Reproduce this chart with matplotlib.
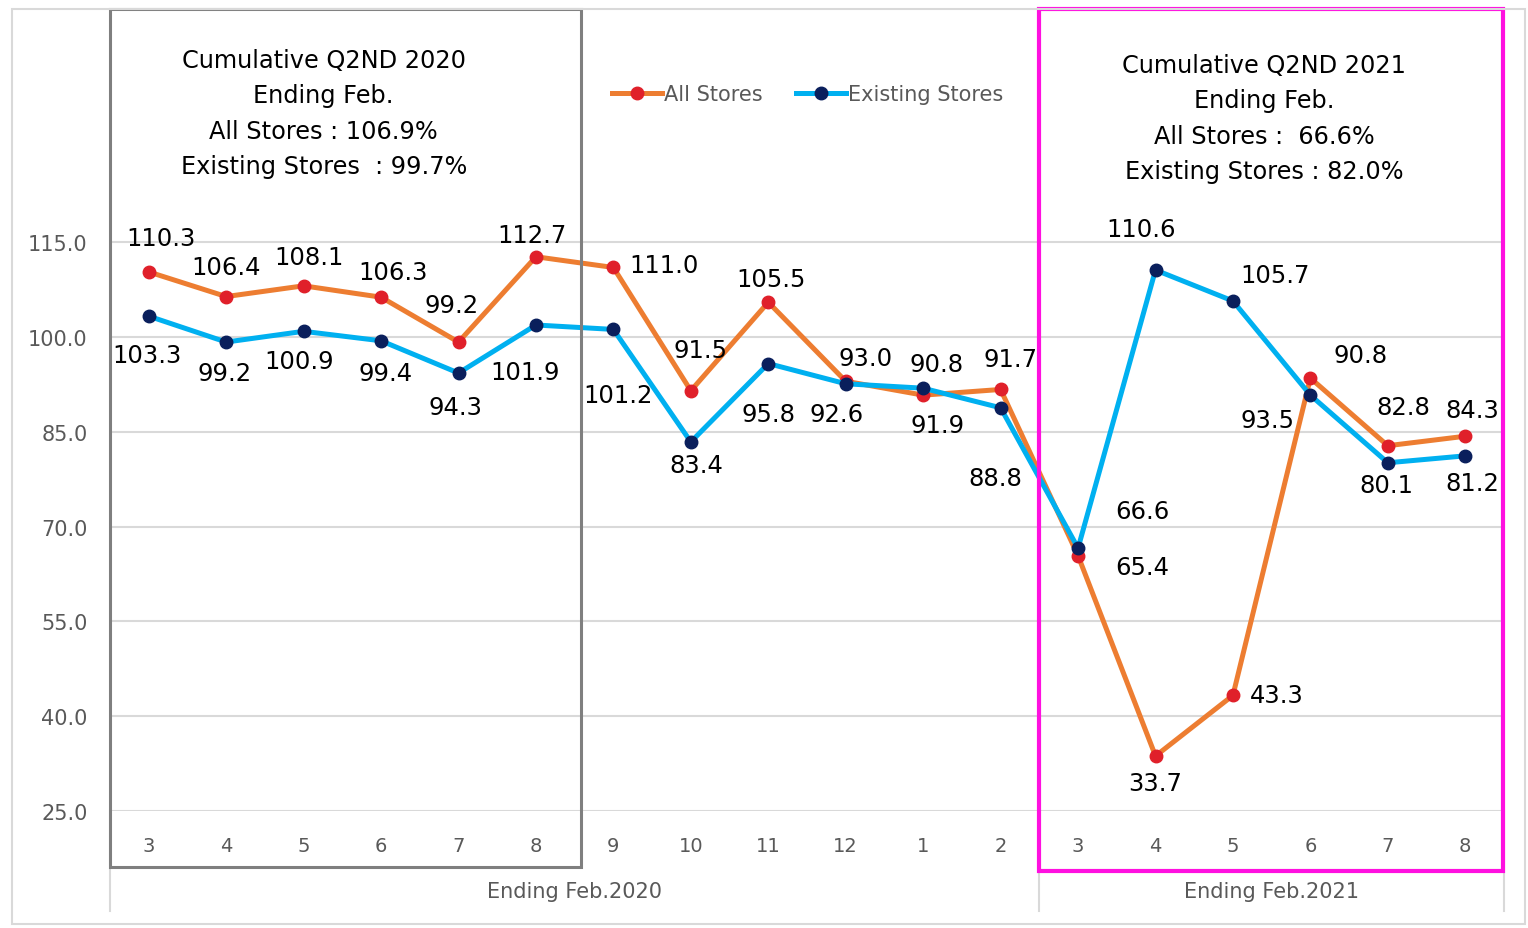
import numpy as np
import matplotlib.pyplot as plt
from matplotlib.patches import Rectangle
from matplotlib.lines import Line2D

# month labels along the category axis
months = ['3', '4', '5', '6', '7', '8', '9', '10', '11', '12', '1', '2',
          '3', '4', '5', '6', '7', '8']
groups = ['Ending Feb.2020', 'Ending Feb.2021']
group_sizes = [12, 6]

all_stores = [110.3, 106.4, 108.1, 106.3, 99.2, 112.7, 111.0, 91.5, 105.5,
              93.0, 90.8, 91.7, 65.4, 33.7, 43.3, 93.5, 82.8, 84.3]
existing_stores = [103.3, 99.2, 100.9, 99.4, 94.3, 101.9, 101.2, 83.4, 95.8,
                   92.6, 91.9, 88.8, 66.6, 110.6, 105.7, 90.8, 80.1, 81.2]

# printed labels (as in the source chart, a couple of labels are swapped)
all_labels = [110.3, 106.4, 108.1, 106.3, 99.2, 112.7, 111.0, 91.5, 105.5,
              93.0, 90.8, 91.7, 66.6, 33.7, 43.3, 93.5, 82.8, 84.3]
existing_labels = [103.3, 99.2, 100.9, 99.4, 94.3, 101.9, 101.2, 83.4, 95.8,
                   92.6, 91.9, 88.8, 65.4, 110.6, 105.7, 90.8, 80.1, 81.2]

yticks = [25, 40, 55, 70, 85, 100, 115]

box_2020 = ['Cumulative Q2ND 2020', 'Ending Feb.', 'All Stores : 106.9%',
            'Existing Stores  : 99.7%']
box_2021 = ['Cumulative Q2ND 2021', 'Ending Feb.', 'All Stores :  66.6%',
            'Existing Stores : 82.0%']

# label offsets in pixels (dx, dy up)
all_off = [(12, 34), (0, 30), (5, 29), (12, 25), (-7, 37), (-4, 22),
           (51, 2), (10, 41), (3, 23), (20, 23), (13, 31), (10, 30),
           (64, 45), (0, -27), (44, 0), (-43, -42), (15, 39), (7, 26)]
ex_off = [(-2, -39), (-2, -31), (-4, -30), (5, -32), (-3, -34), (-11, -47),
          (5, -66), (5, -23), (0, -50), (-9, -30), (14, -37), (-5, -70),
          (64, -19), (-14, 41), (42, 26), (50, 40), (-1, -22), (7, -27)]

ORANGE = '#ED7D31'
RED = '#E0202A'
BLUE = '#00B0F0'
NAVY = '#0A1F5C'
GRID = '#D9D9D9'
TXT = '#595959'

plt.rcParams['font.family'] = ['DejaVu Sans']

fig = plt.figure(figsize=(15.28, 9.29), dpi=100)
ax = fig.add_axes([110 / 1528, 1 - 812 / 929, 1394 / 1528, 802 / 929])

x = np.arange(len(months))
ax.plot(x, all_stores, color=ORANGE, lw=3.6, marker='o', ms=9,
        mfc=RED, mec=RED, zorder=3)
ax.plot(x, existing_stores, color=BLUE, lw=3.6, marker='o', ms=9,
        mfc=NAVY, mec=NAVY, zorder=4)

for i in range(len(x)):
    ax.annotate(f'{all_labels[i]:.1f}', (x[i], all_stores[i]),
                xytext=all_off[i], textcoords='offset pixels',
                ha='center', va='center', fontsize=17.5, color='black',
                zorder=6)
    ax.annotate(f'{existing_labels[i]:.1f}', (x[i], existing_stores[i]),
                xytext=ex_off[i], textcoords='offset pixels',
                ha='center', va='center', fontsize=17.5, color='black',
                zorder=6)

ax.set_xlim(-0.5, len(months) - 0.5)
ax.set_ylim(25, 151.9)
ax.set_yticks(yticks)
ax.set_yticklabels([f'{t:.1f}' for t in yticks])
ax.set_xticks(x)
ax.set_xticklabels(months)
ax.tick_params(axis='both', length=0, labelsize=14, labelcolor=TXT)
ax.tick_params(axis='y', labelsize=15, pad=16)
ax.tick_params(axis='x', pad=18)
for s in ax.spines.values():
    s.set_visible(False)
ax.grid(axis='y', color=GRID, lw=1.5)
ax.set_axisbelow(True)

# red segment on the value axis
ax.vlines(-0.5, yticks[0], yticks[-1], color='#E04040', lw=1.5, zorder=2)

# group separators and labels under the months
tr = ax.get_xaxis_transform()
edges = np.concatenate([[0], np.cumsum(group_sizes)]) - 0.5
for e in edges:
    ax.plot([e, e], [0, -0.125], color=GRID, lw=1.5, transform=tr,
            clip_on=False)
for g, a, b in zip(groups, edges[:-1], edges[1:]):
    ax.text((a + b) / 2, -0.1, g, transform=tr, ha='center', va='center',
            fontsize=15, color=TXT)

# highlight boxes
ax.add_patch(Rectangle((-0.5, -0.07), 6.08, 1.07, transform=tr,
                       fill=False, ec='#7F7F7F', lw=2.2, clip_on=False,
                       zorder=7))
ax.add_patch(Rectangle((11.5, -0.075), 5.99, 1.075, transform=tr,
                       fill=False, ec='#FF10E0', lw=3, clip_on=False,
                       zorder=7))

for lines, cx, top in [(box_2020, 2.26, 61), (box_2021, 14.4, 66)]:
    for k, s in enumerate(lines):
        fig.text((110 + (cx + 0.5) * 1394 / 18) / 1528,
                 1 - (top + 35.3 * k) / 929, s, ha='center', va='center',
                 fontsize=17.3, color='black')

# legend
handles = [Line2D([], [], color=ORANGE, lw=3.6, marker='o', ms=9,
                  mfc=RED, mec=RED),
           Line2D([], [], color=BLUE, lw=3.6, marker='o', ms=9,
                  mfc=NAVY, mec=NAVY)]
fig.legend(handles, ['All Stores', 'Existing Stores'], loc='center',
           bbox_to_anchor=(808 / 1528, 1 - 95 / 929), ncol=2, frameon=False,
           fontsize=15, labelcolor=TXT, handlelength=2.4, handletextpad=0.1,
           columnspacing=1.6)

# outer chart border
fig.patches.append(Rectangle((12 / 1528, 1 - 925 / 929), 1513 / 1528,
                             915 / 929, transform=fig.transFigure,
                             fill=False, ec=GRID, lw=1.5))

fig.savefig('out.png', dpi=100)
